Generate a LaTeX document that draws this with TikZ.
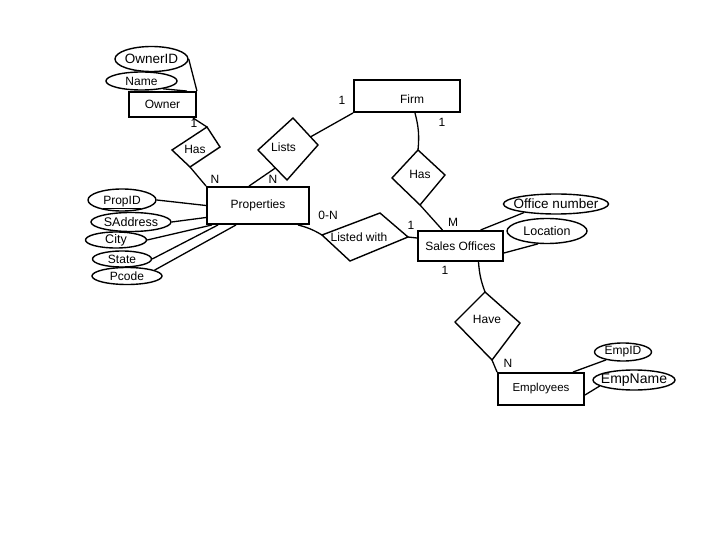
\documentclass[tikz,border=0pt]{standalone}
\usepackage{fontspec}
\setmainfont{Liberation Sans}
\usetikzlibrary{shapes.geometric,calc}
\newcommand{\myfs}[1]{\fontsize{#1}{#1}\selectfont}
\begin{document}
\begin{tikzpicture}[x=1pt,y=-1pt,
  ent/.style={draw, line width=1.9pt, inner sep=0pt, font=\myfs{12}},
  attr/.style={draw, ellipse, line width=1.4pt, inner sep=0pt},
  rel/.style={draw, line width=1.4pt, line join=miter},
  lnk/.style={line width=1.3pt},
  txt/.style={inner sep=0pt, font=\myfs{12}}]
\useasboundingbox[fill=white] (0,0) rectangle (720,540);

% entities
\node[ent, minimum width=67pt, minimum height=25pt] (owner) at (162.5,104.5) {Owner};
\node[ent, minimum width=106pt, minimum height=32pt] (firm) at (407,96) {};
\node[txt] (firmt) at (412,99) {Firm};
\node[ent, minimum width=102pt, minimum height=37pt] (prop) at (258,205.5) {Properties};
\node[ent, minimum width=85pt, minimum height=30pt] (so) at (460.5,246) {Sales Offices};
\node[ent, minimum width=86pt, minimum height=32pt, font=\myfs{11.5}] (emp) at (541,389) {Employees};

% attributes
\node[attr, minimum width=73pt, minimum height=25pt, label={center:\myfs{13.5}OwnerID}] (oid) at (151.5,59) {};
\node[attr, minimum width=71pt, minimum height=18pt, label={center:\myfs{12}Name}] (name) at (141.5,81) {};
\node[attr, minimum width=68pt, minimum height=22pt, label={[yshift=-2.5pt]center:\myfs{12}\underline{PropID}}] (pid) at (122,200) {};
\node[attr, minimum width=80pt, minimum height=19pt, label={center:\myfs{12.5}SAddress}] (sadd) at (131,222) {};
\node[attr, minimum width=61pt, minimum height=16pt, label={center:\myfs{12.5}City}] (city) at (116,240) {};
\node[attr, minimum width=59pt, minimum height=16pt, label={center:\myfs{12}State}] (state) at (122,259) {};
\node[attr, minimum width=70pt, minimum height=17pt, label={center:\myfs{12}Pcode}] (pcode) at (127,276) {};
\node[attr, minimum width=105pt, minimum height=20pt, label={center:\myfs{13.5}Office number}] (onum) at (556,204) {};
\node[attr, minimum width=80pt, minimum height=25pt, label={center:\myfs{12.5}Location}] (loc) at (547,231) {};
\node[attr, minimum width=57pt, minimum height=18pt, label={center:\myfs{12}EmpID}] (eid) at (623,352) {};
\node[attr, minimum width=82pt, minimum height=20pt, label={center:\myfs{14}EmpName}] (ename) at (634,380) {};

% relationships (diamonds)
\coordinate (h1L) at (172,150); \coordinate (h1T) at (207,127);
\coordinate (h1R) at (220,147); \coordinate (h1B) at (190,167);
\draw[rel] (h1L) -- (h1T) -- (h1R) -- (h1B) -- cycle;
\node[txt] (has1) at (195,149) {Has};

\coordinate (lsL) at (258,150); \coordinate (lsT) at (293,118);
\coordinate (lsR) at (318,145); \coordinate (lsB) at (287,180);
\draw[rel] (lsL) -- (lsT) -- (lsR) -- (lsB) -- cycle;
\node[txt] (lists) at (283.5,147) {Lists};

\coordinate (h2L) at (392,178); \coordinate (h2T) at (418,150);
\coordinate (h2R) at (445,175); \coordinate (h2B) at (420,205);
\draw[rel] (h2L) -- (h2T) -- (h2R) -- (h2B) -- cycle;
\node[txt] (has2) at (420,174) {Has};

\coordinate (lwL) at (322,235); \coordinate (lwT) at (380,213);
\coordinate (lwR) at (408,237); \coordinate (lwB) at (350,261);
\draw[rel] (lwL) -- (lwT) -- (lwR) -- (lwB) -- cycle;
\node[txt] (listed) at (359,237) {Listed with};

\coordinate (hvL) at (455,322); \coordinate (hvT) at (485,292);
\coordinate (hvR) at (520,323); \coordinate (hvB) at (492,360);
\draw[rel] (hvL) -- (hvT) -- (hvR) -- (hvB) -- cycle;
\node[txt] (have) at (487,319) {Have};

% connectors
\draw[lnk] (oid.east) -- (owner.north east);
\draw[lnk] (name.-20) -- ([xshift=-10pt]owner.north east);
\draw[lnk] ([xshift=-4pt]owner.south east) -- (h1T);
\draw[lnk] (h1B) -- (prop.north west);
\draw[lnk] ([xshift=43pt]prop.north west) -- ($(lsB)!0.4!(lsL)$);
\draw[lnk] ($(lsT)!0.7!(lsR)$) -- (firm.south west);
\draw[lnk] ([xshift=8pt]firm.south) to[bend left=10] (h2T);
\draw[lnk] (h2B) -- ([xshift=-18pt]so.north);
\draw[lnk] ([xshift=-12pt]prop.south east) to[bend left=8] (lwL);
\draw[lnk] (lwR) -- ([yshift=8pt]so.west);
\draw[lnk] (onum.195) -- ([xshift=20pt]so.north);
\draw[lnk] (loc.235) -- ([yshift=-7pt]so.east);
\draw[lnk] ([xshift=18pt]so.south) to[bend right=8] (hvT);
\draw[lnk] (hvB) -- (emp.north west);
\draw[lnk] (eid.205) -- ([xshift=-12pt]emp.north east);
\draw[lnk] (ename.190) -- ([yshift=-6pt]emp.east);

\draw[lnk] (pid.east) -- (prop.west);
\draw[lnk] (sadd.east) -- ([yshift=-12pt]prop.west);
\draw[lnk] (city.east) -- ([xshift=6pt]prop.south west);
\draw[lnk] (state.east) -- ([xshift=12pt]prop.south west);
\draw[lnk] (pcode.12) -- ([xshift=30pt]prop.south west);

% cardinalities
\node[txt] (c1) at (194,123) {1};
\node[txt] (c2) at (215,179) {N};
\node[txt] (c3) at (273,179) {N};
\node[txt] (c4) at (342,100) {1};
\node[txt] (c5) at (442,122) {1};
\node[txt] (c6) at (328,215) {0-N};
\node[txt] (c7) at (411,225) {1};
\node[txt] (c8) at (453,222) {M};
\node[txt] (c9) at (445,270) {1};
\node[txt] (c10) at (508,363) {N};
\end{tikzpicture}
\end{document}
